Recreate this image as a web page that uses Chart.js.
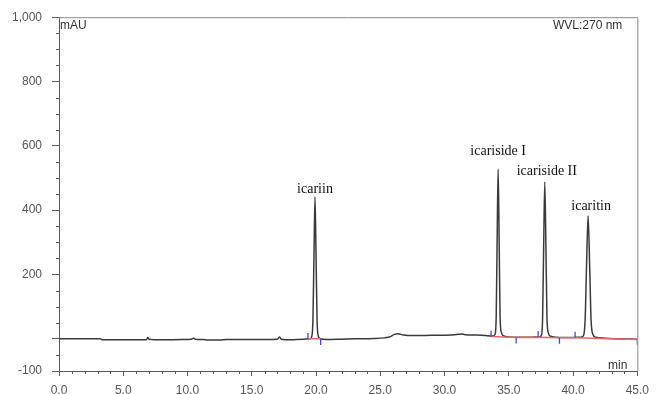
<!DOCTYPE html>
<html>
<head>
<meta charset="utf-8">
<script src="https://cdn.jsdelivr.net/npm/chart.js@4"></script>
<style>
  body { margin: 0; background: #fff; }
</style>
</head>
<body>
<canvas id="hplcChart" width="656" height="394"></canvas>
<script>
// Chromatogram: retention time (min) vs absorbance (mAU) at 270 nm
const signal = [
    [0, 0], [1.5, 0], [3.2, 0], [3.4, -3], [5, -3], [6.8, -3], [6.9, 4], [7.0, -1], [8, -3],
    [9.5, -2], [10.3, -1], [10.45, 2], [10.6, -1], [11.2, -2], [11.6, -4], [12.5, -4], [13, -2],
    [15, -2], [17.0, -1], [17.15, 6], [17.3, -1], [18, -3], [19, -1], [19.55, 0],
    [19.66, 6], [19.76, 60], [19.84, 260], [19.92, 442], [20.0, 260], [20.08, 60], [20.18, 8],
    [20.35, 0], [20.8, -2], [22, -1], [23, 0], [24.5, 1], [25.3, 3], [25.8, 7], [26.1, 14],
    [26.35, 16], [26.8, 12], [27.5, 10], [29, 11], [30.5, 12], [31.1, 14], [31.3, 15], [31.6, 13],
    [32.5, 12], [33.2, 10], [33.8, 9],
    [33.93, 14], [34.02, 70], [34.09, 300], [34.17, 528], [34.25, 300], [34.32, 70], [34.42, 20],
    [34.6, 9], [35, 6], [36.5, 5], [37.4, 6],
    [37.53, 10], [37.63, 65], [37.71, 280], [37.8, 488], [37.89, 280], [37.97, 65], [38.08, 18],
    [38.25, 8], [38.7, 5], [39.8, 4], [40.6, 5],
    [40.8, 9], [40.94, 60], [41.05, 230], [41.17, 383], [41.29, 230], [41.4, 60], [41.53, 15],
    [41.75, 5], [42.5, 2], [43.5, 0], [45, -1]
];

// integration baselines (red) and peak start / end marks (blue)
const integrationBaseline = [
    [19.37, 0], [20.36, 0], [20.4, null],
    [33.62, 7], [35.57, 4], [37.28, 5], [38.94, 3], [40.16, 3], [45, -2]
];
const peakStartMarks = [[19.37, 9], [33.62, 16], [37.28, 15], [40.16, 13]];
const peakEndMarks = [[20.36, -10], [35.57, -5], [38.94, -6], [45, -9]];

const peakNames = ['icariin', 'icariside I', 'icariside II', 'icaritin'];
const peakTimes = [19.92, 34.17, 37.8, 41.17];
const peakHeights = [442, 528, 488, 383];

const xTicks = [0, 5, 10, 15, 20, 25, 30, 35, 40, 45];
const xTickLabels = ['0.0', '5.0', '10.0', '15.0', '20.0', '25.0', '30.0', '35.0', '40.0', '45.0'];
const yTicks = [-100, 0, 200, 400, 600, 800, 1000];
const yTickLabels = ['-100', '', '200', '400', '600', '800', '1,000'];

const toPoints = arr => arr.map(p => ({ x: p[0], y: p[1] }));

const axisColor = '#5a5a5a';
const labelFont = { family: '"Liberation Sans", Arial, sans-serif', size: 12 };

// label offsets from peak apex, px
const peakLabelOffsets = [[0, -4], [0, -14], [2, -7], [3, -6]];

const chromAnnotations = {
    id: 'chromAnnotations',
    afterDraw(chart) {
        const { ctx, chartArea: a, scales: { x, y } } = chart;
        ctx.save();

        // frame top and right
        ctx.strokeStyle = '#8a8a8a';
        ctx.lineWidth = 1;
        ctx.beginPath();
        ctx.moveTo(a.left, a.top + 0.5);
        ctx.lineTo(a.right + 0.5, a.top + 0.5);
        ctx.lineTo(a.right + 0.5, a.bottom);
        ctx.stroke();

        // minor ticks
        ctx.strokeStyle = axisColor;
        ctx.beginPath();
        for (let t = 1; t < 45; t++) {
            if (t % 5 === 0) continue;
            const px = Math.round(x.getPixelForValue(t)) + 0.5;
            ctx.moveTo(px, a.bottom);
            ctx.lineTo(px, a.bottom + 3);
        }
        for (let v = -50; v < 1000; v += 50) {
            if (yTicks.includes(v)) continue;
            const py = Math.round(y.getPixelForValue(v)) + 0.5;
            ctx.moveTo(a.left - 3, py);
            ctx.lineTo(a.left + 1, py);
        }
        ctx.stroke();

        // corner texts
        ctx.fillStyle = '#333';
        ctx.font = '12px "Liberation Sans", Arial, sans-serif';
        ctx.textBaseline = 'alphabetic';
        ctx.textAlign = 'left';
        ctx.fillText('mAU', a.left + 1, a.top + 12);
        ctx.textAlign = 'right';
        ctx.fillText('WVL:270 nm', a.right - 15, a.top + 12);
        ctx.fillText('min', a.right - 10, a.bottom - 2);

        // peak names
        ctx.font = '14px "Liberation Serif", "Times New Roman", serif';
        ctx.fillStyle = '#111';
        ctx.textAlign = 'center';
        peakNames.forEach((name, i) => {
            const px = x.getPixelForValue(peakTimes[i]) + peakLabelOffsets[i][0];
            const py = y.getPixelForValue(peakHeights[i]) + peakLabelOffsets[i][1];
            ctx.fillText(name, px, py);
        });

        ctx.restore();
    }
};

const ctx = document.getElementById('hplcChart').getContext('2d');
const hplcChart = new Chart(ctx, {
    type: 'scatter',
    data: {
        datasets: [
            {
                label: 'baseline',
                data: toPoints(integrationBaseline),
                showLine: true,
                spanGaps: false,
                borderColor: '#f06464',
                borderWidth: 1.5,
                pointRadius: 0,
                order: 2
            },
            {
                label: 'signal',
                data: toPoints(signal),
                showLine: true,
                borderColor: '#3a3a3a',
                borderWidth: 1.5,
                pointRadius: 0,
                cubicInterpolationMode: 'monotone',
                order: 3
            },
            {
                label: 'start',
                data: toPoints(peakStartMarks),
                pointStyle: 'line',
                rotation: 90,
                radius: 3,
                borderColor: '#4646e6',
                borderWidth: 1.3,
                order: 1
            },
            {
                label: 'end',
                data: toPoints(peakEndMarks),
                pointStyle: 'line',
                rotation: 90,
                radius: 3,
                borderColor: '#4646e6',
                borderWidth: 1.3,
                order: 1
            }
        ]
    },
    options: {
        responsive: false,
        animation: false,
        layout: { padding: { top: 14, right: 18, left: 0, bottom: 0 } },
        plugins: {
            legend: { display: false },
            tooltip: { enabled: false }
        },
        scales: {
            x: {
                type: 'linear',
                min: 0,
                max: 45,
                afterBuildTicks: scale => { scale.ticks = xTicks.map(v => ({ value: v })); },
                afterFit: scale => { scale.height = 23; },
                ticks: {
                    color: '#555',
                    font: labelFont,
                    padding: 7,
                    maxRotation: 0,
                    callback: (v, i) => xTickLabels[i]
                },
                grid: { drawOnChartArea: false, tickLength: 5, color: axisColor },
                border: { color: axisColor, width: 1 }
            },
            y: {
                min: -100,
                max: 1000,
                afterBuildTicks: scale => { scale.ticks = yTicks.map(v => ({ value: v })); },
                afterFit: scale => { scale.width = 59; },
                ticks: {
                    color: '#555',
                    font: labelFont,
                    padding: 10,
                    callback: (v, i) => yTickLabels[i]
                },
                grid: { drawOnChartArea: false, tickLength: 7, color: axisColor },
                border: { color: axisColor, width: 1 }
            }
        }
    },
    plugins: [chromAnnotations]
});
</script>
</body>
</html>
